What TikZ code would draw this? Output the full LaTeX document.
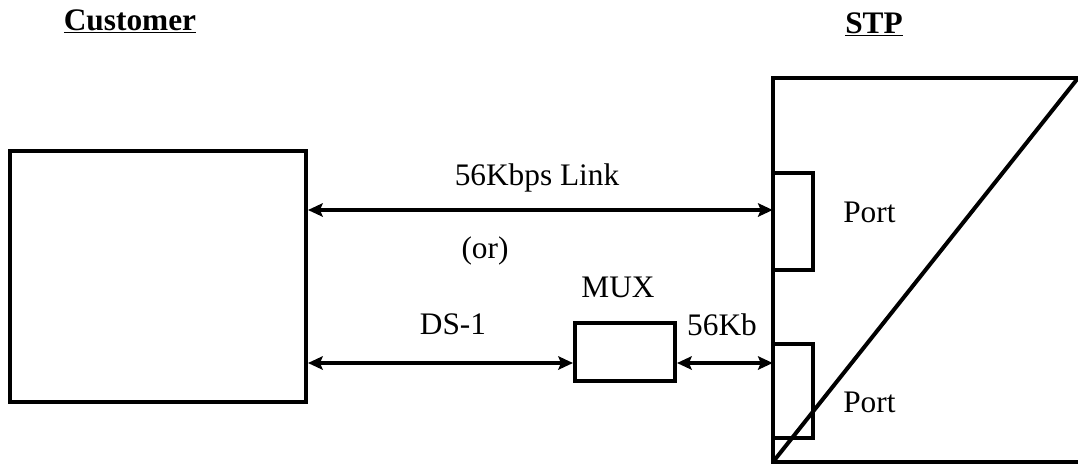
\documentclass[tikz,border=0pt]{standalone}
\usepackage{fontspec}
\setmainfont{Liberation Serif}
\usetikzlibrary{arrows.meta, positioning}

\tikzset{
    box/.style={draw, line width=3pt, rectangle, inner sep=0pt},
    link/.style={{Stealth[length=11pt,width=10pt,inset=2pt]}-{Stealth[length=11pt,width=10pt,inset=2pt]}, line width=2.6pt},
    lbl/.style={font=\fontsize{23.5}{28}\selectfont, inner sep=0pt},
    head/.style={font=\fontsize{23.5}{28}\selectfont\bfseries, inner sep=0pt, anchor=base}
}

\begin{document}
\begin{tikzpicture}[x=0.75pt, y=-0.75pt]
        \useasboundingbox (0,0) rectangle (1078,465);

        % titles
        \node[head] (custhead) at (130,30) {\underline{Customer}};
        \node[head] (stphead) at (874,33) {\underline{STP}};

        % boxes
        \node[box, minimum width=296*0.75pt, minimum height=251*0.75pt] (cust) at (158,276.5) {};
        \node[rectangle, inner sep=0pt, minimum width=305*0.75pt, minimum height=384*0.75pt] (stp) at (925.5,270) {};
        \draw[line width=3pt] (stp.north east) -- (stp.north west) -- (stp.south west) -- (stp.south east);
        \node[box, minimum width=40*0.75pt, minimum height=97*0.75pt] (port1) at (793,221.5) {};
        \node[box, minimum width=40*0.75pt, minimum height=94*0.75pt] (port2) at (793,391) {};
        \node[box, minimum width=100*0.75pt, minimum height=58*0.75pt] (mux) at (625,352) {};
        \draw[line width=3pt] (stp.south west) -- (stp.north east);

        % links
        \coordinate (upper) at (540,210);
        \coordinate (lower) at (540,363);
        \draw[link] (cust.east |- upper) -- (stp.west |- upper);
        \draw[link] (cust.east |- lower) -- (mux.west |- lower);
        \draw[link] (mux.east |- lower) -- (stp.west |- lower);

        % labels
        \node[lbl, anchor=base] (linklbl) at (537,185) {56Kbps Link};
        \node[lbl, anchor=base] (orlbl) at (485,258) {(or)};
        \node[lbl, anchor=base] (muxlbl) at (618,297) {MUX};
        \node[lbl, anchor=base] (dslbl) at (453,334) {DS-1};
        \node[lbl, anchor=base] (kblbl) at (722,335) {56Kb};
        \node[lbl, anchor=base west] (portlbl1) at (843,222) {Port};
        \node[lbl, anchor=base west] (portlbl2) at (843,412) {Port};
\end{tikzpicture}
\end{document}
